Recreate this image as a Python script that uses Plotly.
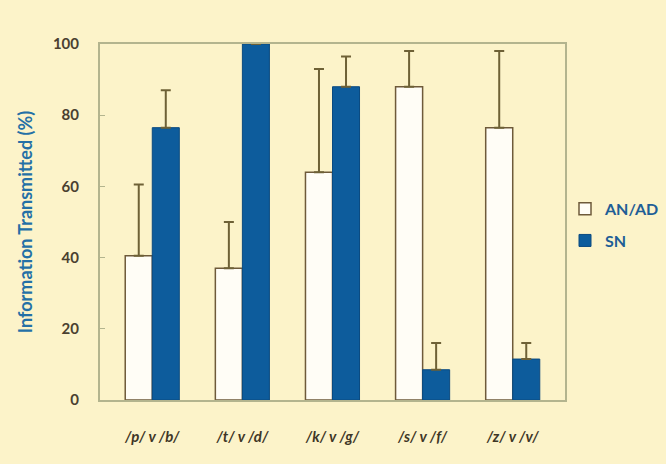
import plotly.graph_objects as go

categories = ["/p/ v /b/", "/t/ v /d/", "/k/ v /g/", "/s/ v /f/", "/z/ v /v/"]
an_ad = [40.5, 37, 64, 88, 76.5]
an_ad_err = [20, 13, 29, 10, 21.5]
sn = [76.5, 100, 88, 8.5, 11.5]
sn_err = [10.5, 0, 8.5, 7.5, 4.5]
y_ticks = [0, 20, 40, 60, 80, 100]

bg = "#fcf3c9"
err_color = "#6e6136"
frame = "#b3b48e"

fig = go.Figure()
fig.add_trace(go.Bar(
    x=categories, y=an_ad, name="AN/AD", legendgroup="a",
    marker=dict(color="#fffdf6", line=dict(color="#6e5a3a", width=1.5)),
    error_y=dict(type="data", symmetric=False, array=an_ad_err,
                 arrayminus=[0] * len(an_ad), color=err_color,
                 thickness=2, width=5),
))
fig.add_trace(go.Bar(
    x=categories, y=sn, name="SN", legendgroup="b",
    marker=dict(color="#0d5c9c", line=dict(color="#0a4a80", width=1)),
    error_y=dict(type="data", symmetric=False, array=sn_err,
                 arrayminus=[0] * len(sn), color=err_color,
                 thickness=2, width=5),
))

fig.update_layout(
    width=666, height=464,
    paper_bgcolor=bg, plot_bgcolor=bg,
    margin=dict(l=100, r=101, t=44, b=64, autoexpand=False),
    barmode="group", bargap=0.4, bargroupgap=0,
    font=dict(family="Lato", color="#4a4030"),
    legend=dict(x=1.0, y=0.585, xanchor="left", yanchor="top",
                font=dict(size=16, color="#1f5e96", family="Lato", weight="bold"),
                bgcolor="rgba(0,0,0,0)", itemwidth=30, tracegroupgap=8),
    showlegend=True,
)
fig.update_xaxes(
    range=[-0.58, 4.58],
    showline=True, mirror=True, linecolor=frame, linewidth=2,
    tickfont=dict(size=15, family="Lato", weight="bold", style="italic",
                  color="#3e3626"),
    ticks="", showgrid=False, ticklabelstandoff=22,
)
fig.update_yaxes(
    range=[0, 100], tickvals=y_ticks,
    showline=True, mirror=True, linecolor=frame, linewidth=2,
    ticks="inside", ticklen=5, tickcolor=frame,
    tickfont=dict(size=15, family="Lato", weight="bold", color="#4a4030"),
    ticklabelstandoff=16,
    showgrid=False, zeroline=False,
    title=dict(text="Information Transmitted (%)",
               font=dict(size=18, family="Lato", weight="bold", color="#2470a6"),
               standoff=16),
)

fig.write_html("out.html")
